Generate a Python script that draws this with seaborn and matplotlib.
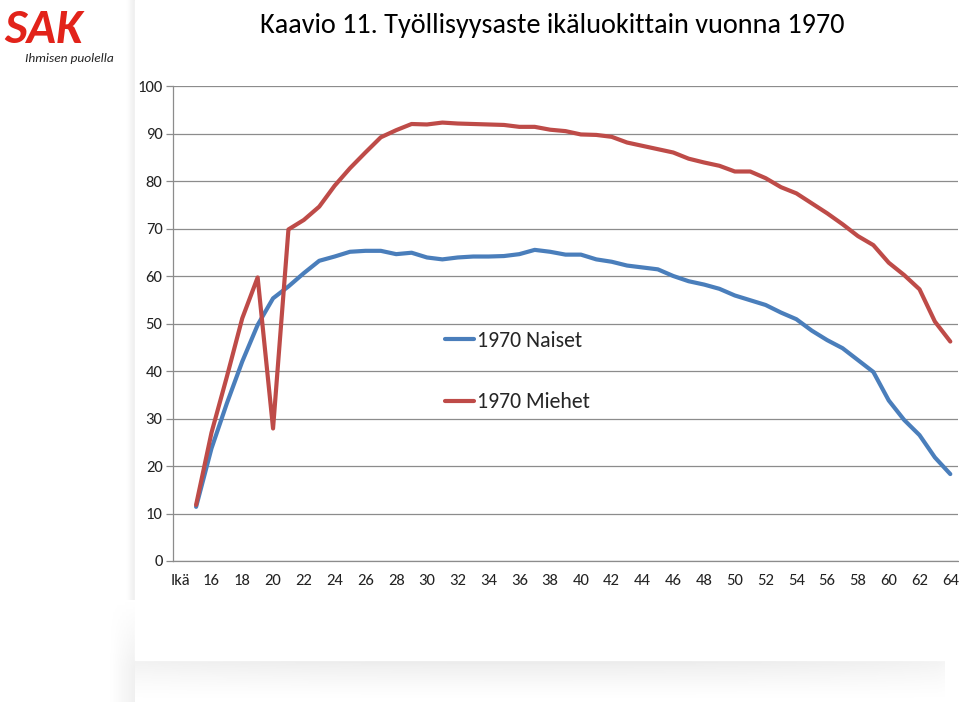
import numpy as np
import pandas as pd
import seaborn as sns
import matplotlib
matplotlib.use("Agg")
import matplotlib.pyplot as plt
from matplotlib import font_manager

# ---------------- data ----------------
categories = ["Ikä"] + [str(a) for a in range(15, 65)]
ages = list(range(15, 65))
naiset = [11.4, 23.7, 33.2, 42.0, 49.7, 55.3, 57.8, 60.6, 63.2, 64.1,
          65.1, 65.3, 65.3, 64.6, 64.9, 63.9, 63.5, 63.9, 64.1, 64.1,
          64.2, 64.6, 65.5, 65.1, 64.5, 64.5, 63.5, 63.0, 62.2, 61.8,
          61.4, 60.0, 58.9, 58.2, 57.3, 55.9, 54.9, 53.9, 52.3, 50.9,
          48.5, 46.5, 44.8, 42.3, 39.8, 33.8, 29.7, 26.5, 21.8, 18.3]
miehet = [11.8, 27.0, 38.8, 51.1, 59.7, 27.9, 69.8, 71.8, 74.6, 79.0,
          82.7, 86.0, 89.2, 90.7, 92.0, 91.9, 92.3, 92.1, 92.0, 91.9,
          91.8, 91.4, 91.4, 90.8, 90.5, 89.8, 89.7, 89.3, 88.1, 87.4,
          86.7, 86.0, 84.7, 83.9, 83.2, 82.0, 82.0, 80.6, 78.7, 77.4,
          75.3, 73.2, 70.9, 68.4, 66.5, 62.8, 60.2, 57.2, 50.4, 46.2]
series_names = ["1970 Naiset", "1970 Miehet"]
series_colors = ["#4A7EBB", "#BE4B48"]
yticks = list(range(0, 101, 10))
title = "Kaavio 11. Työllisyysaste ikäluokittain vuonna 1970"

# ---------------- fonts ----------------
sns.set_theme(style="white")
available = {f.name for f in font_manager.fontManager.ttflist}
main_font = "Liberation Sans"
for cand in ["Carlito", "Liberation Sans Narrow", "Roboto Condensed",
             "Open Sans Condensed", "Liberation Sans"]:
    if cand in available:
        main_font = cand
        break
plt.rcParams["font.family"] = [main_font, "DejaVu Sans"]
narrow = main_font != "Liberation Sans"

# ---------------- frame ----------------
W, H = 959, 702
fig = plt.figure(figsize=(W / 100, H / 100), dpi=100)
fig.patch.set_facecolor("white")

# background / shadow decoration
bg = fig.add_axes([0, 0, 1, 1], zorder=-5)
bg.set_xlim(0, W)
bg.set_ylim(H, 0)
bg.axis("off")
yy = np.linspace(0, 1, 40).reshape(-1, 1)
xx = np.linspace(0, 1, 200).reshape(1, -1)
shade = 0.16 * (1 - yy) ** 1.5 * (0.55 + 0.45 * np.sin(np.pi * xx) ** 0.4)
bg.imshow(shade, extent=(112, 945, 702, 660), cmap="Greys", vmin=0, vmax=1,
          aspect="auto", interpolation="bilinear", zorder=1)
gradl = np.repeat(np.linspace(0.0, 0.14, 10).reshape(1, -1), 10, axis=0)
bg.imshow(gradl, extent=(126, 135, 660, 0), cmap="Greys", vmin=0, vmax=1,
          aspect="auto", interpolation="bilinear", zorder=1)
gx = np.linspace(0, 1, 25).reshape(1, -1)
gy = np.linspace(0, 1, 30).reshape(-1, 1)
gradl2 = 0.12 * gx * np.clip(gy * 1.5, 0, 1)
bg.imshow(gradl2, extent=(110, 135, 702, 600), cmap="Greys", vmin=0, vmax=1,
          aspect="auto", interpolation="bilinear", zorder=1)
bg.add_patch(plt.Rectangle((135, 0), 824, 660, color="white", zorder=2))

# ---------------- chart ----------------
left, right, top, bottom = 173, 958, 86, 561
ax = fig.add_axes([left / W, 1 - bottom / H, (right - left) / W, (bottom - top) / H])

df = pd.DataFrame({
    "pos": [categories.index(str(a)) for a in ages] * 2,
    "value": naiset + miehet,
    "series": [series_names[0]] * len(ages) + [series_names[1]] * len(ages),
})
sns.lineplot(data=df, x="pos", y="value", hue="series", hue_order=series_names,
             palette=series_colors, linewidth=3.0, ax=ax, legend=True, zorder=3)

ax.set_xlim(-0.5, len(categories) - 0.5)
ax.set_ylim(0, 100)
ax.set_xlabel("")
ax.set_ylabel("")

tick_fs = 12 if narrow else 10.5
grid_c = "#8C8C8C"
ax.set_yticks(yticks)
ax.set_yticklabels([str(v) for v in yticks], fontsize=tick_fs, color="#222222")
ax.yaxis.grid(True, color=grid_c, linewidth=0.9)
ax.xaxis.grid(False)
ax.set_axisbelow(True)

ax.set_xticks(range(0, len(categories), 2))
ax.set_xticklabels(categories[::2], fontsize=tick_fs, color="#222222")
ax.set_xticks(np.arange(-0.5, len(categories), 1), minor=True)
ax.tick_params(axis="x", which="major", length=0, pad=9.5)
ax.tick_params(axis="x", which="minor", length=5, width=0.9, color=grid_c, direction="out")
ax.tick_params(axis="y", which="major", length=5, width=0.9, color=grid_c, direction="out", pad=2.5, left=True)

for s in ["top", "right"]:
    ax.spines[s].set_visible(False)
for s in ["left", "bottom"]:
    ax.spines[s].set_color(grid_c)
    ax.spines[s].set_linewidth(0.9)

leg_fs = 15.7 if narrow else 14
leg = ax.legend(loc="upper left", bbox_to_anchor=(445 / W, 1 - 331 / H),
                bbox_transform=fig.transFigure, frameon=False, fontsize=leg_fs,
                handlelength=1.35, handletextpad=0.12, labelspacing=1.9,
                borderpad=0, borderaxespad=0)
for line in leg.get_lines():
    line.set_linewidth(3.0)

# ---------------- titles / logo ----------------
fig.text(552 / W, 1 - 25 / H, title, ha="center", va="center",
         fontsize=(20.3 if narrow else 18.6), color="black")
fig.text(4 / W, 1 - 30 / H, "SAK", ha="left", va="center", fontsize=(35 if narrow else 30),
         fontweight="bold", fontstyle="italic", color="#E2231A")
fig.text(25 / W, 1 - 58 / H, "Ihmisen puolella", ha="left", va="center",
         fontsize=(9.6 if narrow else 8.5), fontstyle="italic", color="#222222")

fig.savefig("out.png", dpi=100)
